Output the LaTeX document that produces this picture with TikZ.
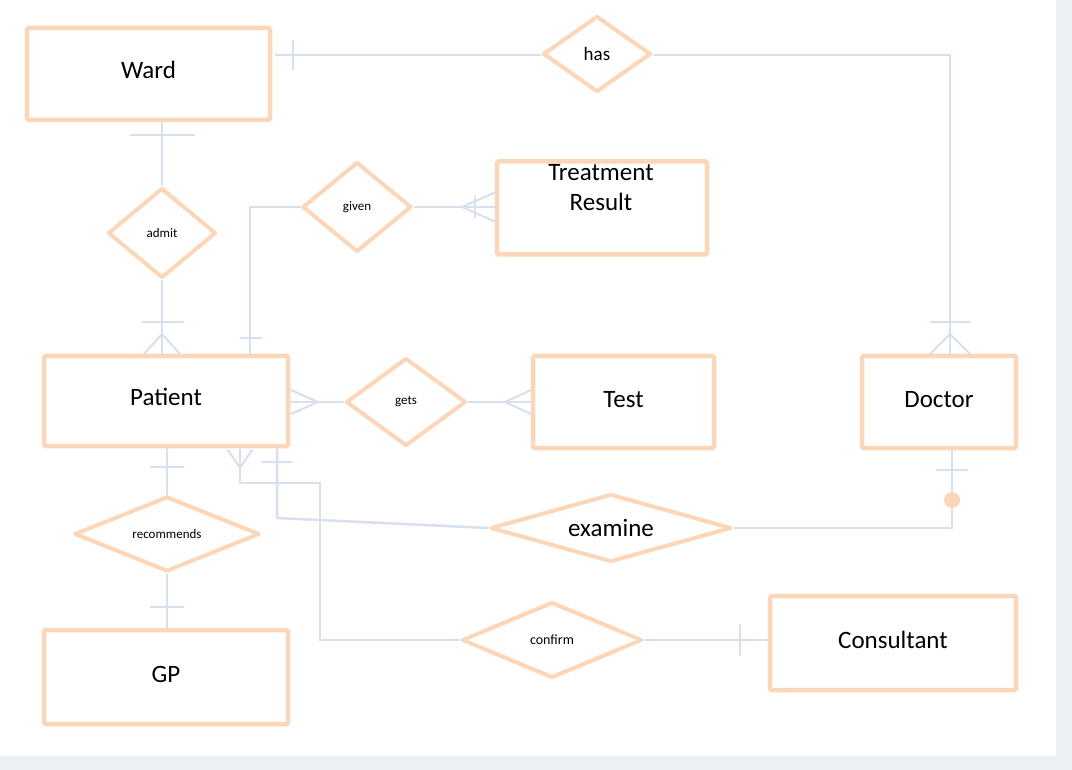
\documentclass[tikz,border=0pt]{standalone}
\usepackage{fontspec}
\setmainfont{Carlito}
\usetikzlibrary{shapes.geometric}
\definecolor{ent}{RGB}{251,214,184}
\definecolor{lnk}{RGB}{216,223,237}
\definecolor{pagebg}{RGB}{236,239,244}
\begin{document}
\begin{tikzpicture}[x=1pt,y=-1pt,
  entity/.style={draw=ent,line width=4.5pt,rounded corners=1.5pt,fill=white,inner sep=0pt,align=center,text height=18pt,text depth=8pt,font=\fontsize{25}{30}\selectfont},
  rel/.style={diamond,draw=ent,line width=4pt,line join=round,fill=white,inner sep=0pt,font=\fontsize{13}{15}\selectfont},
  link/.style={draw=lnk,line width=2.5pt},
  tick/.style={draw=lnk,line width=2pt}
]
\useasboundingbox (0,0) rectangle (1072,770);
\fill[pagebg] (0,0) rectangle (1072,770);
\fill[white] (0,0) rectangle (1056,756);

\coordinate (hasC) at (950,55);
\coordinate (givC) at (250,207);
\coordinate (exA) at (277,518);
\coordinate (exB) at (952,528);
\coordinate (cfA) at (240,483);
\coordinate (cfB) at (320,483);
\coordinate (cfC) at (320,640);

% entities
\node[entity,minimum width=243pt,minimum height=92pt] (ward) at (148.5,74) {Ward};
\node[entity,minimum width=210pt,minimum height=93pt] (trbox) at (602,208) {};
\node[font=\fontsize{25}{30}\selectfont,align=center,inner sep=0pt] (tr) at (601,188) {Treatment\\Result};
\node[entity,minimum width=244pt,minimum height=90pt] (patient) at (166,401) {Patient};
\node[entity,minimum width=181pt,minimum height=92pt] (test) at (623.5,402) {Test};
\node[entity,minimum width=154pt,minimum height=92pt] (doctor) at (939,402) {Doctor};
\node[entity,minimum width=246pt,minimum height=94pt] (consultant) at (893,643) {Consultant};
\node[entity,minimum width=244pt,minimum height=94pt] (gp) at (166,677) {GP};

% relationships
\node[rel,minimum width=108pt,minimum height=76pt,font=\fontsize{19}{22}\selectfont] (has) at (597,54) {has};
\node[rel,minimum width=108pt,minimum height=90pt] (admit) at (162,233) {admit};
\node[rel,minimum width=109pt,minimum height=90pt] (given) at (357,207) {given};
\node[rel,minimum width=120pt,minimum height=88pt] (gets) at (406,402) {gets};
\node[rel,minimum width=185pt,minimum height=75pt,aspect=2.5] (recommends) at (167,534) {recommends};
\node[rel,minimum width=241pt,minimum height=68pt,aspect=3.6,font=\fontsize{25}{30}\selectfont] (examine) at (611,528) {examine};
\node[rel,minimum width=180pt,minimum height=76pt,aspect=2.4,font=\fontsize{14}{16}\selectfont] (confirm) at (552,640) {confirm};

% links
\draw[link] (ward.east |- hasC) ++(2.5,0) -- (has.west |- hasC);
\draw[link] (has.east |- hasC) -- (hasC) -- (doctor.north -| hasC);
\draw[link] (ward.south -| admit) -- (admit.north);
\draw[link] (admit.south) -- (patient.north -| admit);
\draw[link] (patient.north -| givC) -- (givC) -- (given.west);
\draw[link] (given.east) -- (trbox.west |- given);
\draw[link] (patient.east |- gets) -- (gets.west);
\draw[link] (gets.east) -- (test.west |- gets);
\draw[link] (patient.south -| recommends) -- (recommends.north);
\draw[link] (recommends.south) -- (gp.north -| recommends);
\draw[link] (patient.south -| exA) -- (exA) -- (examine.west);
\draw[link] (examine.east) -- (exB) -- (doctor.south -| exB);
\draw[link] (patient.south -| cfA) -- (cfA) -- (cfB) -- (cfC) -- (confirm.west);
\draw[link] (confirm.east) -- (consultant.west |- confirm);

% cardinality marks
\draw[tick] (293,40) -- (293,70);
\draw[tick] (930,322) -- (970,322);
\draw[tick] (930,354) -- (950,334) -- (970,354);
\draw[tick] (142,322) -- (184,322);
\draw[tick] (144,354) -- (162,334) -- (180,354);
\draw[tick] (130,135) -- (195,135);
\draw[tick] (240,338) -- (262,338);
\draw[tick] (496,192) -- (462,207) -- (496,222);
\draw[tick] (475,196) -- (475,218);
\draw[tick] (291,390) -- (318,402) -- (291,414);
\draw[tick] (531,390) -- (505,402) -- (531,414);
\draw[tick] (150,467) -- (184,467);
\draw[tick] (150,607) -- (184,607);
\draw[tick] (936,470) -- (968,470);
\fill[ent] (952,500) circle (8pt);
\draw[tick] (262,462) -- (292,462);
\draw[tick] (228,450) -- (240,468) -- (252,450);
\draw[tick] (740,624) -- (740,656);
\end{tikzpicture}
\end{document}
